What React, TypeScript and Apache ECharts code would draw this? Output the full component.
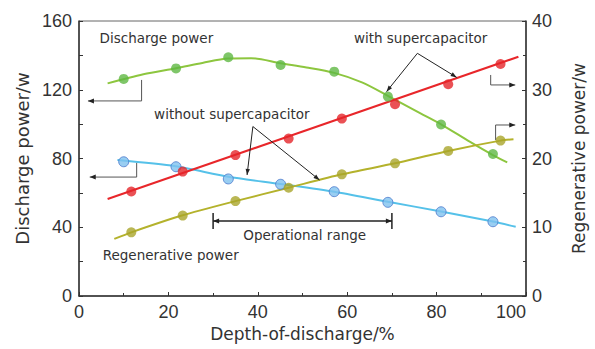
import React, { useEffect, useRef } from "react";
import * as echarts from "echarts";

// ---- markers (x = depth of discharge %, y in axis units) ----
const dischargeX = [10, 21.7, 33.4, 45.1, 57.1, 69.1, 81, 92.6];
const dischargeWith = [126.3, 132.4, 138.9, 134.4, 130.5, 116, 99.8, 82.6]; // green, left axis
const dischargeWithout = [78.1, 75.2, 68.1, 65, 60.7, 54.5, 49, 43.2]; // blue, left axis
const regenX = [11.7, 23.2, 35, 46.9, 58.8, 70.7, 82.6, 94.3];
const regenWith = [15.2, 18.1, 20.5, 22.9, 25.8, 27.9, 30.8, 33.75]; // red, right axis
const regenWithout = [9.26, 11.7, 13.8, 15.75, 17.7, 19.3, 21.1, 22.6]; // olive, right axis

// ---- fitted curves ----
const greenCurveX = [6.4, 14.4, 21.7, 27.6, 33.3, 38.5, 45.1, 50.9, 57.1, 63.3, 69.1, 76.4, 81, 87.4, 92.6, 95.8];
const greenCurveY = [123.7, 129, 132.5, 135.6, 138.2, 138.4, 135.4, 133, 129.8, 124.3, 116.5, 106.3, 99.9, 89.8, 82, 77.8];
const blueCurveX = [8.6, 21.6, 33.4, 45.1, 57.1, 69.1, 81, 92.6, 97.7];
const blueCurveY = [79.1, 75.5, 69.4, 65.2, 60.7, 54.8, 49.2, 43.3, 40.3];
const redLineX = [6.4, 98.3];
const redLineY = [14.1, 34.8];
const oliveCurveX = [7.9, 11.7, 23, 35, 46.9, 58.8, 70.7, 82.6, 94.3, 97.2];
const oliveCurveY = [8.3, 9.26, 11.7, 13.8, 15.75, 17.7, 19.3, 21.1, 22.6, 22.8];

// ---- annotation geometry (data coordinates, left axis) ----
const greenBracket = [[14, 125.7], [14, 113.5], [2, 113.5]];
const blueBracket = [[12.9, 77.4], [12.9, 69.2], [2.4, 69.2]];
const redBracket = [[92.1, 128.6], [92.1, 122.8], [97.6, 122.8]];
const oliveBracket = [[93.2, 90.8], [93.2, 99.5], [97.6, 99.5]];
const withoutApex = [38.9, 98.6];
const withoutTargets = [[37.6, 70.4], [53.8, 67.5]];
const withApex = [75.7, 141.2];
const withTargets = [[68.8, 118.9], [84.5, 127.2]];
const opRange = [30, 70];
const opRangeY = 43.6;
const opTickY = [48.3, 39];
const labels = [
  { text: "Discharge power", x: 4.6, y: 150, align: "left" },
  { text: "Regenerative power", x: 5.3, y: 23.9, align: "left" },
  { text: "without supercapacitor", x: 16.8, y: 105.9, align: "left" },
  { text: "with supercapacitor", x: 61.5, y: 150, align: "left" },
  { text: "Operational range", x: 50.5, y: 35.5, align: "center" },
];

const FONT = "DejaVu Sans";
const TICKFONT = "Liberation Sans";
const AX = "#333";

const pts = (xs: number[], ys: number[]) => xs.map((x, i) => [x, ys[i]]);

export default function App() {
  const ref = useRef<HTMLDivElement>(null);
  useEffect(() => {
    document.body.style.margin = "0";
    if (!ref.current) return;
    const chart = echarts.init(ref.current, undefined, { renderer: "svg" });
    const axisCommon = {
      axisLine: { show: true, lineStyle: { color: AX, width: 1.5 } },
      axisTick: { show: true, inside: true, length: 4, lineStyle: { color: AX } },
      minorTick: { show: true, splitNumber: 2, length: 3, lineStyle: { color: AX } },
      splitLine: { show: false },
      axisLabel: { color: AX, fontSize: 18, fontFamily: TICKFONT },
      nameTextStyle: { color: AX, fontSize: 17, fontFamily: FONT },
    };
    const marker = (color: string, border?: string) => ({
      color,
      borderColor: border || color,
      borderWidth: border ? 1 : 0,
    });
    chart.setOption({
      animation: false,
      backgroundColor: "#fff",
      grid: { left: 79, right: 58, top: 21, bottom: 53, show: true, borderColor: "#666", borderWidth: 1 },
      xAxis: {
        type: "value", min: 0, max: 100, interval: 20,
        ...axisCommon,
        axisLabel: { ...axisCommon.axisLabel, margin: 7, alignMaxLabel: "right" },
        name: "Depth-of-discharge/%", nameLocation: "middle", nameGap: 29,
      },
      yAxis: [
        {
          type: "value", min: 0, max: 160, interval: 40, position: "left",
          ...axisCommon,
          minorTick: { ...axisCommon.minorTick, length: 4 },
          axisLabel: { ...axisCommon.axisLabel, margin: 7 },
          name: "Discharge power/w", nameLocation: "middle", nameRotate: 90, nameGap: 48,
          nameTextStyle: { ...axisCommon.nameTextStyle, fontSize: 18 },
        },
        {
          type: "value", min: 0, max: 40, interval: 10, position: "right",
          ...axisCommon,
          axisLabel: { ...axisCommon.axisLabel, margin: 6 },
          name: "Regenerative power/w", nameLocation: "middle", nameRotate: 90, nameGap: 44,
        },
      ],
      series: [
        { type: "line", yAxisIndex: 0, data: pts(greenCurveX, greenCurveY), smooth: 0.3, showSymbol: false, lineStyle: { color: "#8dc63f", width: 2 }, z: 2 },
        { type: "line", yAxisIndex: 0, data: pts(blueCurveX, blueCurveY), smooth: 0.25, showSymbol: false, lineStyle: { color: "#55c1e9", width: 2 }, z: 2 },
        { type: "line", yAxisIndex: 1, data: pts(redLineX, redLineY), showSymbol: false, lineStyle: { color: "#e8262a", width: 2 }, z: 2 },
        { type: "line", yAxisIndex: 1, data: pts(oliveCurveX, oliveCurveY), smooth: 0.25, showSymbol: false, lineStyle: { color: "#b4b22c", width: 2 }, z: 2 },
        { type: "scatter", yAxisIndex: 0, data: pts(dischargeX, dischargeWith), symbolSize: 10, itemStyle: marker("#5fb843"), z: 3 },
        { type: "scatter", yAxisIndex: 0, data: pts(dischargeX, dischargeWithout), symbolSize: 10, itemStyle: marker("#7fc2ef", "#4a78cc"), z: 3 },
        { type: "scatter", yAxisIndex: 1, data: pts(regenX, regenWith), symbolSize: 10, itemStyle: marker("#e5262a"), z: 3 },
        { type: "scatter", yAxisIndex: 1, data: pts(regenX, regenWithout), symbolSize: 10, itemStyle: marker("#a9a52a"), z: 3 },
      ],
    });

    const P = (p: number[]) => chart.convertToPixel({ xAxisIndex: 0, yAxisIndex: 0 }, p) as number[];
    const g: any[] = [];
    const line = (a: number[], b: number[], color: string, w = 1) =>
      g.push({ type: "line", shape: { x1: a[0], y1: a[1], x2: b[0], y2: b[1] }, style: { stroke: color, lineWidth: w }, z: 10 });
    const head = (from: number[], tip: number[], color: string, len = 6, hw = 2.5) => {
      const dx = tip[0] - from[0], dy = tip[1] - from[1];
      const L = Math.hypot(dx, dy) || 1;
      const ux = dx / L, uy = dy / L;
      const bx = tip[0] - ux * len, by = tip[1] - uy * len;
      g.push({
        type: "polygon",
        shape: { points: [tip, [bx - uy * hw, by + ux * hw], [bx + uy * hw, by - ux * hw]] },
        style: { fill: color }, z: 10,
      });
    };
    const bracket = (arr: number[][]) => {
      const px = arr.map(P);
      g.push({ type: "polyline", shape: { points: px }, style: { stroke: "#555", lineWidth: 1, fill: null }, z: 10 });
      head(px[1], px[2], "#222", 6, 2.5);
    };
    [greenBracket, blueBracket, redBracket, oliveBracket].forEach(bracket);
    const callout = (apex: number[], targets: number[][]) => {
      const a = P(apex);
      targets.forEach((t) => {
        const b = P(t);
        line(a, b, "#222", 1);
        head(a, b, "#222", 6, 2.2);
      });
    };
    callout(withoutApex, withoutTargets);
    callout(withApex, withTargets);
    const l = P([opRange[0], opRangeY]);
    const r = P([opRange[1], opRangeY]);
    line(l, r, "#222", 1.5);
    head(r, l, "#222", 6, 2.5);
    head(l, r, "#222", 6, 2.5);
    opRange.forEach((x) => line(P([x, opTickY[0]]), P([x, opTickY[1]]), "#222", 1.5));
    labels.forEach((t) => {
      const p = P([t.x, t.y]);
      g.push({
        type: "text", x: p[0], y: p[1], z: 11,
        style: { text: t.text, fill: "#333", font: `13.5px '${FONT}'`, textAlign: t.align, align: t.align, textVerticalAlign: "middle", verticalAlign: "middle" },
      });
    });
    chart.setOption({ graphic: g });
    return () => chart.dispose();
  }, []);
  return <div ref={ref} style={{ width: 595, height: 349 }} />;
}
